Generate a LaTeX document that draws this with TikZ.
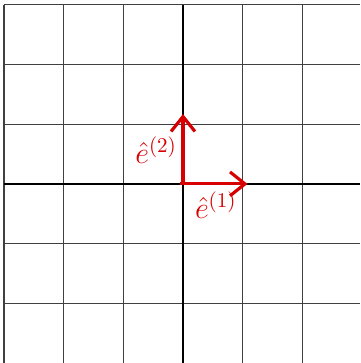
\documentclass[tikz,border=0pt]{standalone}
\usepackage{amsmath}
\usetikzlibrary{arrows.meta}
\definecolor{inkred}{RGB}{215,0,0}
\tikzset{fin/.style={line width=0.6pt, black!75},
	epais/.style={line width=1.3pt},
	vecteur/.style={inkred, line width=1.5pt, -{Straight Barb[length=2.5mm,width=4mm]}},
	etiq/.style={inkred, font=\Large}}
\newcommand{\vtrait}[1]{\draw[fin] (#1,-3.0) -- (#1,3)}
\newcommand{\htrait}[1]{\draw[fin] (-3,#1) -- (2.97,#1)}

\begin{document}
\begin{tikzpicture}
	\useasboundingbox (-3.065,-3.0) rectangle (2.965,3.08);
%Grid
	\foreach \i in {-3,-2,-1,1,2} {\vtrait{\i};}
	\foreach \j in {3,2,1,-1,-2} {\htrait{\j};}
%Axes
	\draw[epais] (0,-3.0) -- (0,3);
	\draw[epais] (-3,0) -- (2.97,0);
%Basis vectors
	\coordinate (O) at (0,0);
	\coordinate (E1) at (1.08,0);
	\coordinate (E2) at (0,1.17);
	\draw[vecteur] (-0.05,0) -- (E1);
	\draw[vecteur] (O) -- (E2);
	\node[etiq] (lab1) at (0.55,-0.36) {$\hat{e}^{(1)}$};
	\node[etiq] (lab2) at (-0.45,0.56) {$\hat{e}^{(2)}$};
\end{tikzpicture}
\end{document}
